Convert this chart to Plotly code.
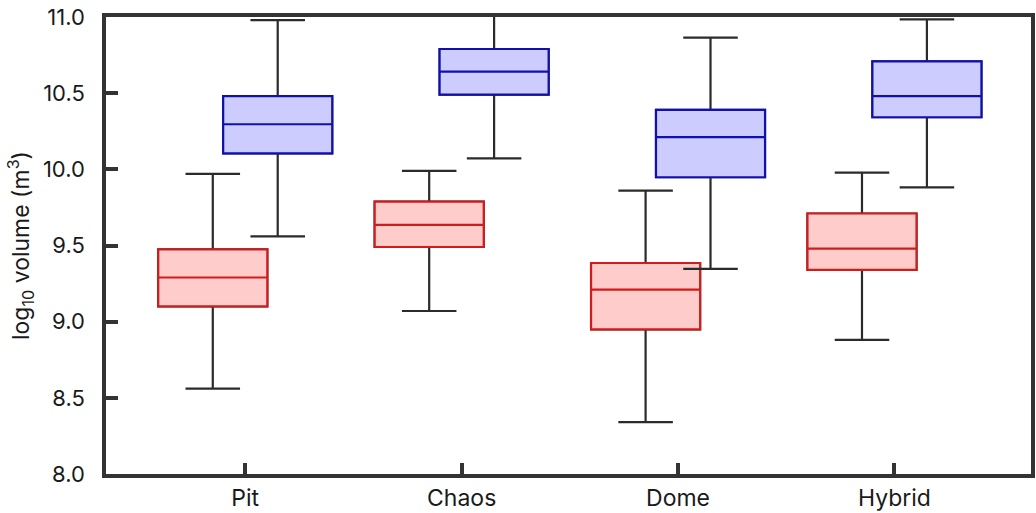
import plotly.graph_objects as go

categories = ["Pit", "Chaos", "Dome", "Hybrid"]

# red series (lower)
red_lower = [8.56, 9.07, 8.34, 8.88]
red_q1 = [9.10, 9.49, 8.95, 9.34]
red_median = [9.29, 9.635, 9.21, 9.48]
red_q3 = [9.475, 9.788, 9.385, 9.71]
red_upper = [9.97, 9.99, 9.86, 9.978]

# blue series (upper)
blue_lower = [9.56, 10.072, 9.346, 9.882]
blue_q1 = [10.105, 10.49, 9.948, 10.342]
blue_median = [10.296, 10.641, 10.212, 10.481]
blue_q3 = [10.481, 10.79, 10.39, 10.709]
blue_upper = [10.98, 11.05, 10.864, 10.985]

y_ticks = [8.0, 8.5, 9.0, 9.5, 10.0, 10.5, 11.0]

OFFSET = 0.15
BOXW = 0.504
WHISKER = "#2b2b2b"
FRAME = "#333333"

pos = list(range(len(categories)))
red_x = [p - OFFSET for p in pos]
blue_x = [p + OFFSET for p in pos]

fig = go.Figure()

def add_series(xs, lo, q1, med, q3, hi, line_col, fill_col):
    # whiskers (black) underneath
    fig.add_trace(go.Box(
        x=xs, lowerfence=lo, q1=q1, median=med, q3=q3, upperfence=hi,
        width=BOXW, whiskerwidth=0.5, boxpoints=False,
        line=dict(color=WHISKER, width=2.2), fillcolor="rgba(0,0,0,0)",
        showlegend=False, hoverinfo="skip",
    ))
    # coloured box on top
    fig.add_trace(go.Box(
        x=xs, lowerfence=q1, q1=q1, median=med, q3=q3, upperfence=q3,
        width=BOXW, whiskerwidth=0, boxpoints=False,
        line=dict(color=line_col, width=2.2), fillcolor=fill_col,
        showlegend=False,
    ))

add_series(red_x, red_lower, red_q1, red_median, red_q3, red_upper, "#d01c1c", "#ffcccc")
add_series(blue_x, blue_lower, blue_q1, blue_median, blue_q3, blue_upper, "#1010b0", "#ccccff")

font_family = "Inter, Open Sans, sans-serif"

fig.update_layout(
    width=1036, height=513,
    margin=dict(l=106, r=5, t=17, b=39),
    paper_bgcolor="white", plot_bgcolor="white",
    boxmode="overlay",
    font=dict(family=font_family, color="#1a1a1a"),
    xaxis=dict(
        range=[-0.6435, 3.631],
        tickvals=pos, ticktext=categories,
        ticks="inside", ticklen=11, tickwidth=3.5, tickcolor=FRAME,
        showline=True, linewidth=3.5, linecolor=FRAME, mirror=True,
        showgrid=False, zeroline=False,
        tickfont=dict(size=23, family=font_family, color="#1a1a1a"),
        ticklabelstandoff=1,
    ),
    yaxis=dict(
        range=[8.0, 11.0],
        tickvals=y_ticks, ticktext=[f"{v:.1f}" for v in y_ticks],
        ticks="inside", ticklen=12, tickwidth=3.5, tickcolor=FRAME,
        showline=True, linewidth=3.5, linecolor=FRAME, mirror=True,
        showgrid=False, zeroline=False,
        tickfont=dict(size=22, family=font_family, color="#1a1a1a"),
        ticklabelstandoff=13,
        title=dict(text="log<sub>10</sub> volume (m<sup>3</sup>)",
                   font=dict(size=23, family=font_family, color="#1a1a1a"),
                   standoff=8),
        automargin=False,
    ),
)
fig.update_xaxes(automargin=False)

fig.write_html("out.html")
